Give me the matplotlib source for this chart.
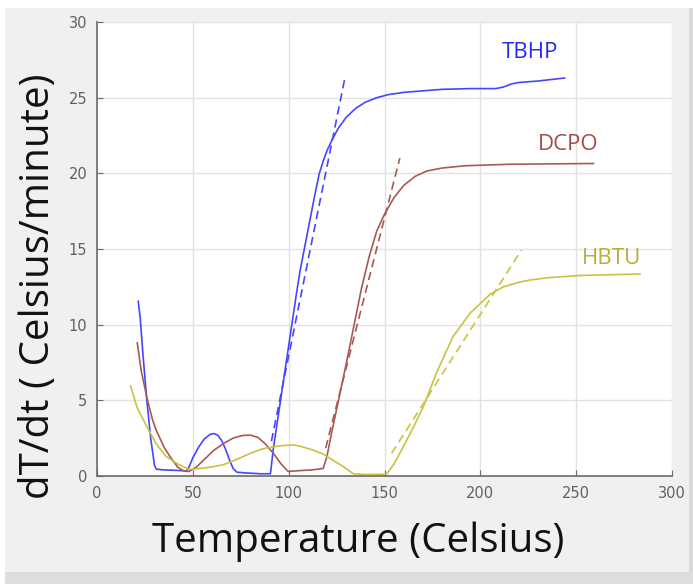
import numpy as np
import matplotlib
matplotlib.use("Agg")
import matplotlib.pyplot as plt
from matplotlib.patches import Rectangle

# values
tbhp_x = [21.5, 22.5, 24, 26, 28, 30, 31, 35, 40, 45, 46.6, 48, 50, 53, 56, 59, 61,
          63, 65, 67, 69, 71, 73, 78, 85, 90.5, 92, 94, 96, 98, 100, 102, 104, 106,
          108, 110, 112, 114, 116, 118, 120, 123, 126, 130, 135, 140, 146, 152,
          160, 170, 180, 195, 208, 212, 216, 220, 230, 244]
tbhp_y = [11.55, 10.5, 8.0, 5.0, 2.5, 0.7, 0.45, 0.4, 0.38, 0.35, 0.3, 0.6, 1.2, 1.9,
          2.45, 2.75, 2.8, 2.7, 2.35, 1.8, 1.1, 0.5, 0.25, 0.2, 0.15, 0.15, 1.8, 3.5,
          5.2, 6.9, 8.6, 10.3, 12.0, 13.6, 14.9, 16.2, 17.5, 18.8, 20.0, 20.8, 21.5,
          22.3, 23.0, 23.7, 24.3, 24.7, 25.0, 25.2, 25.35, 25.45, 25.55, 25.6, 25.6,
          25.7, 25.9, 26.0, 26.1, 26.3]
tbhp_fit_x = [91, 129.5]
tbhp_fit_y = [2.3, 26.4]

dcpo_x = [21, 23, 26, 29, 31, 35, 38, 42, 45, 48, 52, 56, 61, 66, 71, 76, 80, 84,
          88, 92, 96, 99.7, 105, 112, 118, 120, 122, 126, 130, 134, 138, 142, 146,
          150, 155, 160, 166, 172, 180, 192, 215, 259]
dcpo_y = [8.8, 7.0, 5.2, 3.7, 3.0, 1.9, 1.3, 0.6, 0.35, 0.3, 0.6, 1.1, 1.7, 2.15,
          2.5, 2.68, 2.7, 2.55, 2.1, 1.5, 0.8, 0.3, 0.35, 0.4, 0.5, 1.3, 2.6, 5.0,
          7.4, 9.9, 12.4, 14.5, 16.2, 17.3, 18.4, 19.2, 19.8, 20.15, 20.35, 20.5,
          20.6, 20.65]
dcpo_fit_x = [119.3, 158]
dcpo_fit_y = [1.85, 21.0]

hbtu_x = [17.5, 21, 26, 31, 36, 42, 48, 54, 60, 66, 73, 80, 86, 92, 98, 103, 108,
          113, 118, 123, 128.5, 133.7, 140, 151, 155, 159.8, 165, 170.3, 177, 185.7,
          194.6, 205, 212, 220, 226, 235, 252, 283.3]
hbtu_y = [5.95, 4.5, 3.26, 2.1, 1.3, 0.8, 0.44, 0.5, 0.6, 0.75, 1.1, 1.5, 1.78, 1.94,
          2.02, 2.05, 1.9, 1.7, 1.45, 1.05, 0.62, 0.15, 0.1, 0.12, 0.8, 1.94, 3.2,
          4.58, 6.78, 9.2, 10.75, 12.0, 12.5, 12.8, 12.95, 13.1, 13.25, 13.35]
hbtu_fit_x = [153.7, 221.5]
hbtu_fit_y = [1.5, 14.94]

labels = ["TBHP", "DCPO", "HBTU"]
label_x = [226, 245.7, 268.6]
label_y = [28.0, 21.9, 14.4]

c_blue = "#4646ff"
c_brown = "#a65a52"
c_olive = "#c9c242"
txt_colors = ["#2a2aee", "#a34c48", "#b4b038"]

fig = plt.figure(figsize=(6.93, 5.84), dpi=100)
fig.patch.set_facecolor("white")
# screenshot panels
fig.patches.append(Rectangle((5 / 693, 12 / 584), 684 / 693, 564 / 584,
                             transform=fig.transFigure, facecolor="#f0f0f0",
                             edgecolor="none", zorder=-3))
fig.patches.append(Rectangle((5 / 693, 0), 688 / 693, 12 / 584,
                             transform=fig.transFigure, facecolor="#dddddd",
                             edgecolor="none", zorder=-2))
fig.patches.append(Rectangle((689 / 693, 12 / 584), 4 / 693, 564 / 584,
                             transform=fig.transFigure, facecolor="#dadada",
                             edgecolor="none", zorder=-2))

ax = fig.add_axes([97 / 693, 1 - 476 / 584, 575 / 693, 454 / 584])
ax.set_facecolor("white")

lw = 1.2
dash = (0, (5, 3))
ax.plot(tbhp_x, tbhp_y, color=c_blue, lw=lw)
ax.plot(tbhp_fit_x, tbhp_fit_y, color=c_blue, lw=lw, ls=dash)
ax.plot(dcpo_x, dcpo_y, color=c_brown, lw=lw)
ax.plot(dcpo_fit_x, dcpo_fit_y, color=c_brown, lw=lw, ls=dash)
ax.plot(hbtu_x, hbtu_y, color=c_olive, lw=lw)
ax.plot(hbtu_fit_x, hbtu_fit_y, color=c_olive, lw=lw, ls=dash)

for lab, lx, ly, lc in zip(labels, label_x, label_y, txt_colors):
    ax.text(lx, ly, lab, color=lc, fontsize=16, family="Open Sans",
            ha="center", va="center")

ax.set_xlim(0, 300)
ax.set_ylim(0, 30)
ax.set_xticks(np.arange(0, 301, 50))
ax.set_yticks(np.arange(0, 31, 5))
ax.grid(True, color="#e2e2e2", lw=1)
ax.set_axisbelow(True)
for s in ["top", "right"]:
    ax.spines[s].set_visible(False)
for s in ["left", "bottom"]:
    ax.spines[s].set_color("#6a6a6a")
    ax.spines[s].set_linewidth(1.2)
ax.tick_params(direction="in", length=4, colors="#6a6a6a", labelcolor="#606060",
               labelsize=10.5, pad=7)

ax.set_xlabel("Temperature (Celsius)", fontsize=29, family="Open Sans",
              color="#111111")
ax.set_ylabel("dT/dt ( Celsius/minute)", fontsize=29, family="Open Sans",
              color="#111111")
ax.xaxis.set_label_coords(0.454, -0.1)
ax.yaxis.set_label_coords(-0.066, 0.418)

fig.savefig("out.png", dpi=100)
